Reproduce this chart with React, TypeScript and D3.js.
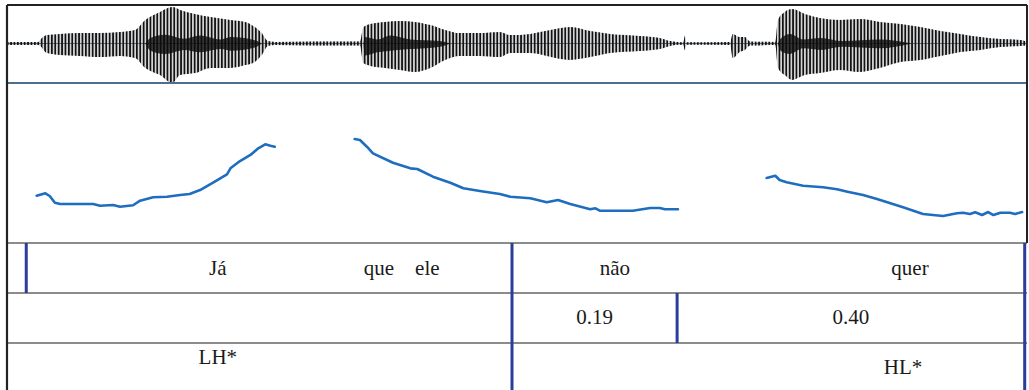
import * as d3 from "d3";

// time axis (s) and pitch (Hz)
const DURATION = 1.1715;

const pitchSegments: [number, number][][] = [
  [
    [0.033, 140.9], [0.043, 144.3], [0.048, 140.5], [0.054, 131], [0.06, 129.1],
    [0.098, 129.1], [0.106, 126.7], [0.121, 127.7], [0.129, 125.3], [0.144, 127.3],
    [0.152, 133.8], [0.167, 138.7], [0.183, 139.5], [0.198, 141.9], [0.209, 143.4],
    [0.221, 149], [0.236, 159.4], [0.252, 171.4], [0.256, 179.9], [0.267, 190.3],
    [0.279, 198.9], [0.288, 208.4], [0.296, 214.1], [0.302, 212.1], [0.307, 210.7],
  ],
  [
    [0.399, 221.7], [0.405, 220.2], [0.413, 210.7], [0.42, 201.3], [0.443, 187.9],
    [0.463, 179.9], [0.471, 179], [0.489, 168], [0.509, 159.4], [0.524, 151.5],
    [0.543, 147.6], [0.566, 143.4], [0.578, 139.5], [0.601, 137.2], [0.62, 131.5],
    [0.633, 134.8], [0.647, 129.1], [0.67, 121.6], [0.676, 123], [0.681, 119.6],
    [0.719, 119.6], [0.739, 123.4], [0.75, 123.4], [0.756, 121.6], [0.771, 121.6],
  ],
  [
    [0.873, 166.1], [0.883, 169.4], [0.888, 163.3], [0.896, 160], [0.915, 155.2],
    [0.938, 152.9], [0.954, 150], [0.966, 146.6], [0.984, 141.9], [1.0, 136.2],
    [1.03, 124.4], [1.053, 114.9], [1.076, 112], [1.092, 115.9], [1.099, 116.7],
    [1.107, 114.9], [1.113, 117.3], [1.121, 113.4], [1.128, 117.7], [1.134, 113.4],
    [1.142, 116.7], [1.153, 116.7], [1.159, 114.9], [1.167, 117.7],
  ],
];

// waveform envelope: [time, upper amplitude, lower amplitude]
const waveEnvelope: [number, number, number][] = [
  [0, 0.04, -0.04], [0.035, 0.04, -0.04], [0.037, 0.09, -0.06], [0.045, 0.21, -0.24],
  [0.06, 0.24, -0.29], [0.083, 0.26, -0.31], [0.106, 0.26, -0.34], [0.129, 0.29, -0.31],
  [0.146, 0.34, -0.36], [0.158, 0.59, -0.61], [0.175, 0.79, -0.79], [0.189, 0.91, -0.99],
  [0.198, 0.84, -0.79], [0.215, 0.74, -0.74], [0.233, 0.66, -0.61], [0.256, 0.59, -0.61],
  [0.273, 0.54, -0.54], [0.284, 0.41, -0.46], [0.292, 0.26, -0.29], [0.299, 0.06, -0.06],
  [0.307, 0.04, -0.04], [0.35, 0.05, -0.05], [0.405, 0.05, -0.05], [0.409, 0.41, -0.49],
  [0.417, 0.49, -0.56], [0.434, 0.54, -0.61], [0.451, 0.56, -0.66], [0.468, 0.54, -0.71],
  [0.486, 0.46, -0.61], [0.503, 0.34, -0.41], [0.52, 0.26, -0.31], [0.543, 0.26, -0.31],
  [0.566, 0.29, -0.34], [0.578, 0.21, -0.24], [0.601, 0.24, -0.24], [0.63, 0.36, -0.36],
  [0.647, 0.41, -0.41], [0.67, 0.31, -0.34], [0.693, 0.24, -0.24], [0.727, 0.19, -0.19],
  [0.75, 0.14, -0.14], [0.762, 0.06, -0.06], [0.773, 0.03, -0.03], [0.777, 0.03, -0.03],
  [0.779, 0.19, -0.16], [0.781, 0.03, -0.03], [0.831, 0.04, -0.04], [0.834, 0.24, -0.36],
  [0.842, 0.16, -0.21], [0.848, 0.16, -0.16], [0.854, 0.05, -0.05], [0.883, 0.04, -0.04],
  [0.886, 0.59, -0.61], [0.894, 0.79, -0.79], [0.902, 0.86, -0.91], [0.917, 0.74, -0.79],
  [0.934, 0.64, -0.74], [0.957, 0.59, -0.66], [0.98, 0.61, -0.71], [1.003, 0.54, -0.61],
  [1.027, 0.49, -0.46], [1.05, 0.41, -0.41], [1.073, 0.31, -0.31], [1.096, 0.24, -0.21],
  [1.119, 0.16, -0.16], [1.142, 0.11, -0.09], [1.165, 0.09, -0.06], [1.1715, 0.05, -0.05],
];

// dense dark core of the waveform
const waveCore: [number, number, number][][] = [
  [[0.158, 0, 0], [0.164, 0.14, -0.18], [0.181, 0.22, -0.26], [0.203, 0.12, -0.16], [0.221, 0.2, -0.22], [0.245, 0.1, -0.14], [0.256, 0.16, -0.18], [0.284, 0.08, -0.1], [0.292, 0, 0]],
  [[0.409, 0, 0], [0.411, 0.16, -0.3], [0.425, 0.1, -0.22], [0.44, 0.2, -0.18], [0.463, 0.1, -0.14], [0.497, 0.06, -0.08], [0.509, 0, 0]],
  [[0.886, 0, 0], [0.889, 0.12, -0.18], [0.9, 0.24, -0.26], [0.915, 0.1, -0.12], [0.935, 0.14, -0.16], [0.96, 0.06, -0.08], [1.003, 0.1, -0.12], [1.04, 0, 0]],
];

// TextGrid tiers
const tierBoundaries: number[][] = [
  [0.021, 0.58, 1.17],
  [0.58, 0.77, 1.17],
  [0.58, 1.17],
];
const tierLabels: { tier: number; t: number; text: string; dy?: number }[] = [
  { tier: 0, t: 0.2415, text: "Já" },
  { tier: 0, t: 0.453, text: "que\u00a0\u00a0\u00a0\u00a0ele" },
  { tier: 0, t: 0.6985, text: "não" },
  { tier: 0, t: 1.038, text: "quer" },
  { tier: 1, t: 0.675, text: "0.19" },
  { tier: 1, t: 0.97, text: "0.40" },
  { tier: 2, t: 0.2415, text: "LH*" },
  { tier: 2, t: 1.03, text: "HL*", dy: 10 },
];

const SERIF = "'Liberation Serif', 'Times New Roman', Times, serif";

export default function App() {
  const width = 1029;
  const height = 390;
  const x = d3.scaleLinear().domain([0, DURATION]).range([8, 1026]);

  const waveTop = 5;
  const waveBottom = 83;
  const waveMid = 43.5;
  const amp = d3.scaleLinear().domain([-1, 1]).range([waveMid + 40, waveMid - 40]);

  const pitchY = d3.scaleLinear().domain([75, 300]).range([242, 84]);
  const tierTops = [243, 293, 343];
  const tierHeight = 50;
  const baselines = [274.5, 323.5, 364];

  const waveArea = d3
    .area<[number, number, number]>()
    .x((d) => x(d[0]))
    .y0((d) => amp(d[2]))
    .y1((d) => amp(d[1]))
    .curve(d3.curveMonotoneX);

  const pitchLine = d3
    .line<[number, number]>()
    .x((d) => x(d[0]))
    .y((d) => pitchY(d[1]));

  const blue = "#2b3c9c";

  return (
    <svg
      width={width}
      height={height}
      style={{ position: "absolute", left: 0, top: 0, background: "#fff" }}
    >
      <defs>
        <pattern id="pulses" patternUnits="userSpaceOnUse" width={3.4} height={10}>
          <rect x={0} y={0} width={1.7} height={10} fill="#121212" />
        </pattern>
      </defs>

      {/* waveform */}
      <line x1={7} x2={1027} y1={waveMid} y2={waveMid} stroke="#5d7b96" strokeWidth={1} />
      <path d={waveArea(waveEnvelope) ?? ""} fill="#555" opacity={0.25} />
      <path d={waveArea(waveEnvelope) ?? ""} fill="url(#pulses)" />
      {waveCore.map((c, i) => (
        <path key={i} d={waveArea(c) ?? ""} fill="#0d0d0d" opacity={0.8} />
      ))}

      {/* pitch */}
      {pitchSegments.map((s, i) => (
        <path
          key={i}
          d={pitchLine(s) ?? ""}
          fill="none"
          stroke="#1f6dbf"
          strokeWidth={2.6}
          strokeLinejoin="round"
          strokeLinecap="round"
        />
      ))}

      {/* separators */}
      <line x1={7} x2={1027} y1={waveBottom} y2={waveBottom} stroke="#4c6f8e" strokeWidth={2} />
      {tierTops.map((y) => (
        <line key={y} x1={7} x2={1027} y1={y} y2={y} stroke="#8c8c8c" strokeWidth={2} />
      ))}

      {/* tier boundaries */}
      {tierBoundaries.map((bs, ti) =>
        bs.map((b) => (
          <line
            key={`${ti}-${b}`}
            x1={x(b)}
            x2={x(b)}
            y1={tierTops[ti]}
            y2={tierTops[ti] + tierHeight}
            stroke={blue}
            strokeWidth={3}
          />
        ))
      )}

      {/* labels */}
      {tierLabels.map((l) => (
        <text
          key={l.text}
          x={x(l.t)}
          y={baselines[l.tier] + (l.dy ?? 0)}
          textAnchor="middle"
          fontSize={21}
          fill="#1a1a1a"
          fontFamily={SERIF}
        >
          {l.text}
        </text>
      ))}

      {/* frame */}
      <line x1={7} x2={1027} y1={waveTop} y2={waveTop} stroke="#222" strokeWidth={2.2} />
      <line x1={7} x2={7} y1={waveTop} y2={height} stroke="#222" strokeWidth={2.2} />
      <line x1={1027} x2={1027} y1={waveTop} y2={243} stroke="#222" strokeWidth={2} />
    </svg>
  );
}
